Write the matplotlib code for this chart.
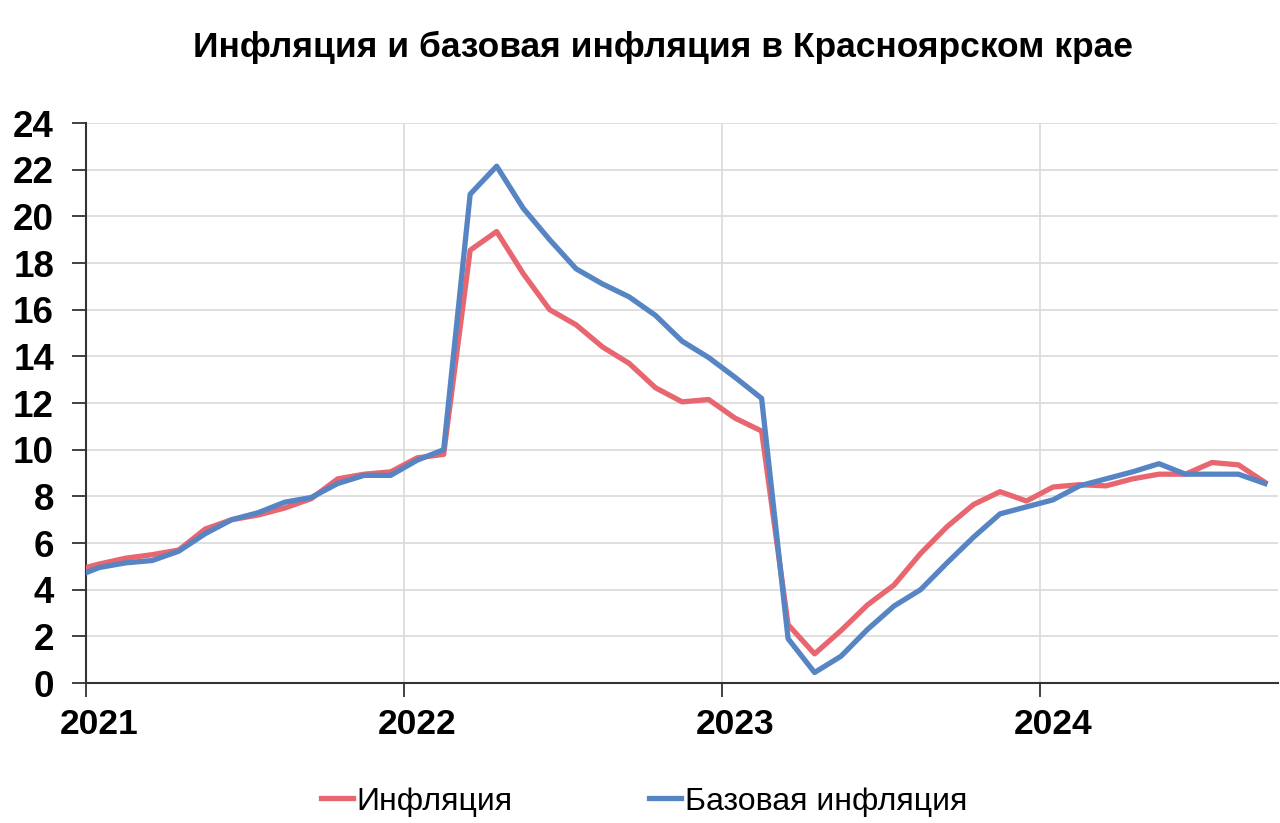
import numpy as np
import matplotlib.pyplot as plt
from matplotlib.ticker import FixedLocator, NullFormatter

plt.rcParams['font.family'] = ['Liberation Sans', 'DejaVu Sans']

# Monthly values, Dec 2020 .. Sep 2024 (the Dec 2020 point only feeds the clipped start of the line)
start_year, start_month = 2020, 12
inflation = [
    4.8,
    5.1, 5.35, 5.5, 5.7, 6.6, 7.0, 7.2, 7.5, 7.9, 8.75, 8.95, 9.05,
    9.65, 9.8, 18.55, 19.35, 17.55, 16.0, 15.35, 14.4, 13.7, 12.65, 12.05, 12.15,
    11.35, 10.8, 2.5, 1.25, 2.25, 3.35, 4.2, 5.55, 6.7, 7.65, 8.2, 7.8,
    8.4, 8.5, 8.45, 8.75, 8.95, 8.95, 9.45, 9.35, 8.6,
]
core_inflation = [
    4.5,
    4.95, 5.15, 5.25, 5.65, 6.4, 7.0, 7.3, 7.75, 7.95, 8.55, 8.9, 8.9,
    9.55, 10.0, 20.95, 22.15, 20.35, 19.0, 17.75, 17.1, 16.55, 15.75, 14.65, 13.95,
    13.1, 12.2, 1.9, 0.45, 1.15, 2.3, 3.3, 4.0, 5.15, 6.25, 7.25, 7.55,
    7.85, 8.45, 8.75, 9.05, 9.4, 8.95, 8.95, 8.95, 8.55,
]
year_labels = ['2021', '2022', '2023', '2024']
series_names = ['Инфляция', 'Базовая инфляция']

# mid-month positions in fractional years
months = np.arange(len(inflation))
x = start_year + (start_month - 1 + months + 0.5) / 12.0
years = np.array([int(y) for y in year_labels], dtype=float)

fig = plt.figure(figsize=(12.8, 8.23), dpi=100)
ax = fig.add_axes([0.0672, 0.1701, 0.9314, 0.6804])

red = '#E8666F'
blue = '#5784C3'
ax.plot(x, inflation, color=red, lw=3.8, label=series_names[0], zorder=3)
ax.plot(x, core_inflation, color=blue, lw=3.8, label=series_names[1], zorder=4)

ax.set_xlim(2021.0, 2024.75)
ax.set_ylim(0, 24)
ax.set_yticks(np.arange(0, 25, 2))

# year boundaries carry tick marks and grid, labels sit under January
ax.xaxis.set_major_locator(FixedLocator(years))
ax.xaxis.set_major_formatter(NullFormatter())
ax.xaxis.set_minor_locator(FixedLocator(years + 0.5 / 12))
ax.set_xticklabels(year_labels, minor=True)
ax.tick_params(axis='x', which='major', length=10, width=1.3, color='#333333', direction='out')
ax.tick_params(axis='x', which='minor', length=0, pad=18, labelsize=25.5)
ax.tick_params(axis='y', length=10, width=1.3, color='#333333', direction='out', pad=13, labelsize=26.5)
for lab in ax.get_xticklabels(minor=True) + ax.get_yticklabels():
    lab.set_fontweight('bold')

ax.grid(True, which='major', color='#D9D9D9', lw=1.2)
ax.set_axisbelow(True)
for side in ['top', 'right']:
    ax.spines[side].set_visible(False)
for side in ['left', 'bottom']:
    ax.spines[side].set_color('#333333')
    ax.spines[side].set_linewidth(1.5)

fig.suptitle('Инфляция и базовая инфляция в Красноярском крае', x=0.518, y=0.963,
             fontsize=25.5, fontweight='bold')

fig.legend(loc='center', bbox_to_anchor=(0.503, 0.026), ncol=2, frameon=False,
           fontsize=23, handlelength=1.0, handletextpad=0.1, columnspacing=4.3)

fig.savefig('out.png', dpi=100)
